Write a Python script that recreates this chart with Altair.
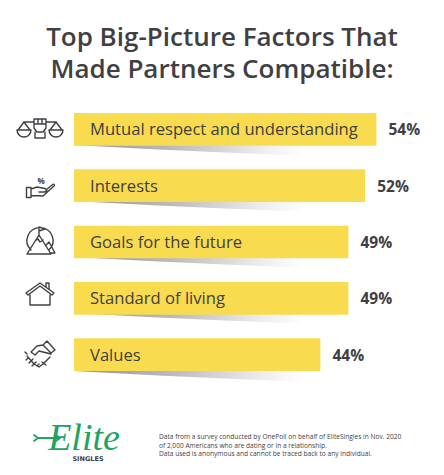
import altair as alt
import pandas as pd

categories = ["Mutual respect and understanding", "Interests", "Goals for the future",
              "Standard of living", "Values"]
values = [54, 52, 49, 49, 44]
title_lines = ["Top Big-Picture Factors That", "Made Partners Compatible:"]
footnote = ["Data from a survey conducted by OnePoll on behalf of EliteSingles in Nov. 2020",
            "of 2,000 Americans who are dating or in a relationship.",
            "Data used is anonymous and cannot be traced back to any individual."]

W, H = 428, 459
O = 8
PX = 5.6
INK = "#3f4044"
YEL = "#F9DB4F"
GREEN = "#1FA463"

df = pd.DataFrame({"cat": categories, "val": values,
                   "label": [f"{v}%" for v in values]})

xs = alt.Scale(domain=[-(74 - O) / PX, (W - (74 - O)) / PX], nice=False, zero=False)
ys = alt.Scale(type="band", domain=categories, range=[113 - O, 371 - O], paddingInner=0.42, paddingOuter=0)
x = alt.X("val:Q", scale=xs, axis=None)
y = alt.Y("cat:N", scale=ys, axis=None, sort=None)

# soft wedge shadows under each bar
bottoms = [145, 201, 257, 313, 371]
rows = []
for c, b in zip(categories, bottoms):
    for u, d in [(0, 0), (15, 4.5), (31, 8.5), (41, 10.5)]:
        rows.append({"cat": c, "u": u, "y0": b - O - 1, "y1": b - O + d})
shadow = alt.Chart(pd.DataFrame(rows)).mark_area(
    fill=alt.Gradient(gradient="linear", x1=0, x2=1, y1=0, y2=0, stops=[
        alt.GradientStop(offset=0, color="#8f8f96"),
        alt.GradientStop(offset=0.45, color="#bcbcc2"),
        alt.GradientStop(offset=0.8, color="#ebebee"),
        alt.GradientStop(offset=1, color="#ffffff")]),
    interpolate="linear", opacity=1
).encode(
    x=alt.X("u:Q", scale=xs, axis=None),
    y=alt.Y("y0:Q", scale=alt.Scale(domain=[0, H], range=[0, H], nice=False, zero=False), axis=None),
    y2="y1:Q",
    detail="cat:N",
)

bars = alt.Chart(df).mark_bar(color=YEL).encode(x=x, y=y)
labels = alt.Chart(df).mark_text(align="left", baseline="middle", font="Open Sans",
                                 fontSize=16.6, color=INK, dy=1).encode(
    x=alt.value(90 - O), y=y, text="cat:N")
pct = alt.Chart(df).mark_text(align="left", baseline="middle", font="Open Sans", fontWeight="bold",
                              fontSize=15.5, color=INK, dx=12, dy=1).encode(
    x=x, y=y, text="label:N")


def txt(s, px, py, **kw):
    return alt.Chart(pd.DataFrame({"t": [s]})).mark_text(**kw).encode(
        x=alt.value(px - O), y=alt.value(py - O), text="t:N")


def icon(path, px, py, color=INK, sw=1.4):
    return alt.Chart(pd.DataFrame({"a": [1]})).mark_point(
        shape=path, size=4, filled=False, stroke=color, strokeWidth=sw, opacity=1,
        strokeJoin="round", strokeCap="round"
    ).encode(x=alt.value(px - O), y=alt.value(py - O))


scales_p = ("M-16,-8L-22,0M-16,-8L-10,0M-23,0L-9,0A7,7 0 0 1 -23,0Z"
            "M16,-8L10,0M16,-8L22,0M9,0L23,0A7,7 0 0 1 9,0Z"
            "M-16,-8L-7,-8M7,-8L16,-8"
            "M-6,-11L6,-11L6,-2L3,2L-3,2L-6,-2Z"
            "M-2,-11L-2,-6M2,-11L2,-6M-6,-6L6,-6"
            "M-5,2L-5,8L5,8L5,2")
hand_p = ("M-13.5,1.5L-9,1.5L-9,11.5L-13.5,11.5Z"
          "M-9,3L-3,1L5,2.5C8,4 7,6 4,6L-1,6"
          "M6,4L12,-1C14,-3 15,-1 14,0L3,10L-9,9.5")
mount_p = ("M-9,10A13,13 0 1 1 9,10"
           "M-13,14L-1,-5L11,14Z"
           "M6,5L9,2L15,13L10,13"
           "M-1,-5L-1,-13L5,-11L-1,-9"
           "M-5,1L-2,-1L0,2L3,0")
house_p = ("M-14,-1L0,-11L14,-1L12,1L0,-8L-12,1Z"
           "M-10,1L-10,11L10,11L10,1"
           "M6,-7L6,-11L9,-11L9,-5")
shake_p = ("M7,-14L15,-5L11,-2L3,-10Z"
           "M3,-10L-3,-9L-9,-3L-5,0L-1,-4L11,-1"
           "M-13,1L-6,9L-1,12L3,9L10,2"
           "M-7,4L-9,6M-4,7L-6,9M-1,9L-3,11M2,7L6,10"
           "M-15,-3L-13,-1M-12,3L-14,5M-9,6L-11,8M-6,9L-8,11")
logo_p = ("M-14,-3L8,-3M4,-6L8,-3L4,0"
          "M-14,-3L-18,-6M-14,-3L-18,0")

title = [txt(t, 222, yy, align="center", baseline="alphabetic", font="Open Sans", fontWeight=600,
             fontSize=26, color=INK) for t, yy in zip(title_lines, [46, 78])]
notes = [txt(t, 159, yy, align="left", baseline="alphabetic", font="Open Sans", fontSize=6.6,
             color=INK) for t, yy in zip(footnote, [439, 447.5, 456])]
icons = [icon(scales_p, 40, 130), icon(hand_p, 40, 186), icon(mount_p, 40, 240),
         icon(house_p, 40, 294), icon(shake_p, 40, 355)]
pct_glyph = txt("%", 41, 184, align="center", baseline="alphabetic", font="Open Sans",
                fontWeight="bold", fontSize=8, color=INK)
logo = [icon(logo_p, 52, 441, GREEN, 1.8),
        txt("Elite", 84, 450, align="center", baseline="alphabetic", font="Liberation Serif",
            fontStyle="italic", fontSize=38, color=GREEN),
        txt("SINGLES", 88, 461, align="center", baseline="alphabetic", font="DejaVu Sans",
            fontWeight="bold", fontSize=6.5, color=INK)]

chart = alt.layer(shadow, bars, labels, pct, *title, *notes, *icons, pct_glyph, *logo).resolve_scale(
    y="independent"
).properties(
    width=W, height=H, padding=0, background="white",
    autosize=alt.AutoSizeParams(type="none"),
).configure_view(stroke=None)

chart.save("out.html", embed_options={"renderer": "svg", "actions": False})
